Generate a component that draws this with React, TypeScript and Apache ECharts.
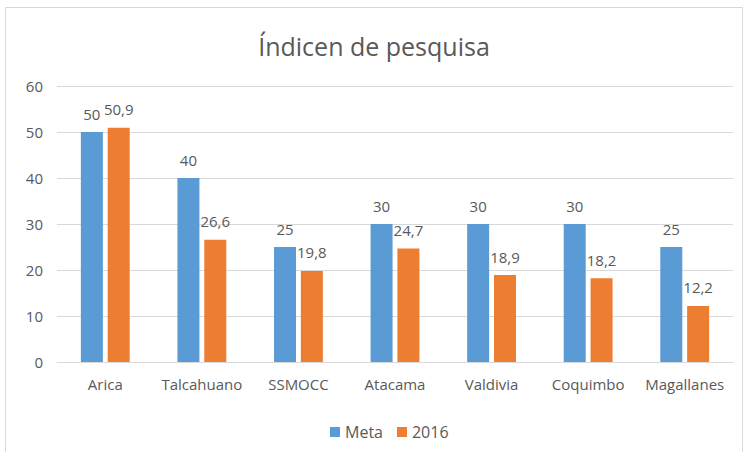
import React, { useEffect, useRef } from "react";
import * as echarts from "echarts";

const categories = ["Arica", "Talcahuano", "SSMOCC", "Atacama", "Valdivia", "Coquimbo", "Magallanes"];
const metaValues = [50, 40, 25, 30, 30, 30, 25];
const values2016 = [50.9, 26.6, 19.8, 24.7, 18.9, 18.2, 12.2];

const FONT = "'Open Sans', 'Noto Sans', sans-serif";

export default function App() {
  const ref = useRef<HTMLDivElement>(null);
  useEffect(() => {
    if (!ref.current) return;
    const chart = echarts.init(ref.current, undefined, { renderer: "svg" });
    const label = {
      show: true,
      position: "top",
      distance: 11,
      color: "#595959",
      fontSize: 15,
      fontFamily: FONT,
      formatter: (p: any) => String(p.value).replace(".", ","),
    };
    chart.setOption({
      animation: false,
      backgroundColor: "#ffffff",
      title: {
        text: "Índicen de pesquisa",
        left: "center",
        top: 28,
        textStyle: { fontSize: 25, fontWeight: "normal", color: "#595959", fontFamily: FONT },
      },
      graphic: [
        {
          type: "rect",
          shape: { x: 5.5, y: 7.5, width: 737, height: 460 },
          style: { fill: "none", stroke: "#d9d9d9", lineWidth: 1 },
          silent: true,
        },
      ],
      legend: {
        top: 419,
        left: 325,
        itemWidth: 10,
        itemHeight: 10,
        itemGap: 14,
        itemTextGap: 4,
        icon: "rect",
        textStyle: { fontSize: 16, color: "#595959", fontFamily: FONT },
        data: ["Meta", "2016"],
      },
      grid: { left: 57, right: 15, top: 86, bottom: 90 },
      xAxis: {
        type: "category",
        data: categories,
        axisLine: { lineStyle: { color: "#d9d9d9" } },
        axisTick: { show: false },
        axisLabel: { color: "#595959", fontSize: 15, fontFamily: FONT, margin: 14, interval: 0 },
      },
      yAxis: {
        type: "value",
        min: 0,
        max: 60,
        interval: 10,
        axisLine: { show: false },
        axisTick: { show: false },
        splitLine: { lineStyle: { color: "#d9d9d9" } },
        axisLabel: { color: "#595959", fontSize: 15, fontFamily: FONT, margin: 14 },
      },
      series: [
        {
          name: "Meta",
          type: "bar",
          data: metaValues,
          barWidth: 22,
          barGap: "22%",
          itemStyle: { color: "#5B9BD5" },
          label,
        },
        {
          name: "2016",
          type: "bar",
          data: values2016,
          barWidth: 22,
          itemStyle: { color: "#ED7D31" },
          label,
        },
      ],
    });
    return () => chart.dispose();
  }, []);
  return (
    <div
      ref={ref}
      style={{ position: "absolute", left: 0, top: 0, width: 748, height: 452 }}
    />
  );
}
